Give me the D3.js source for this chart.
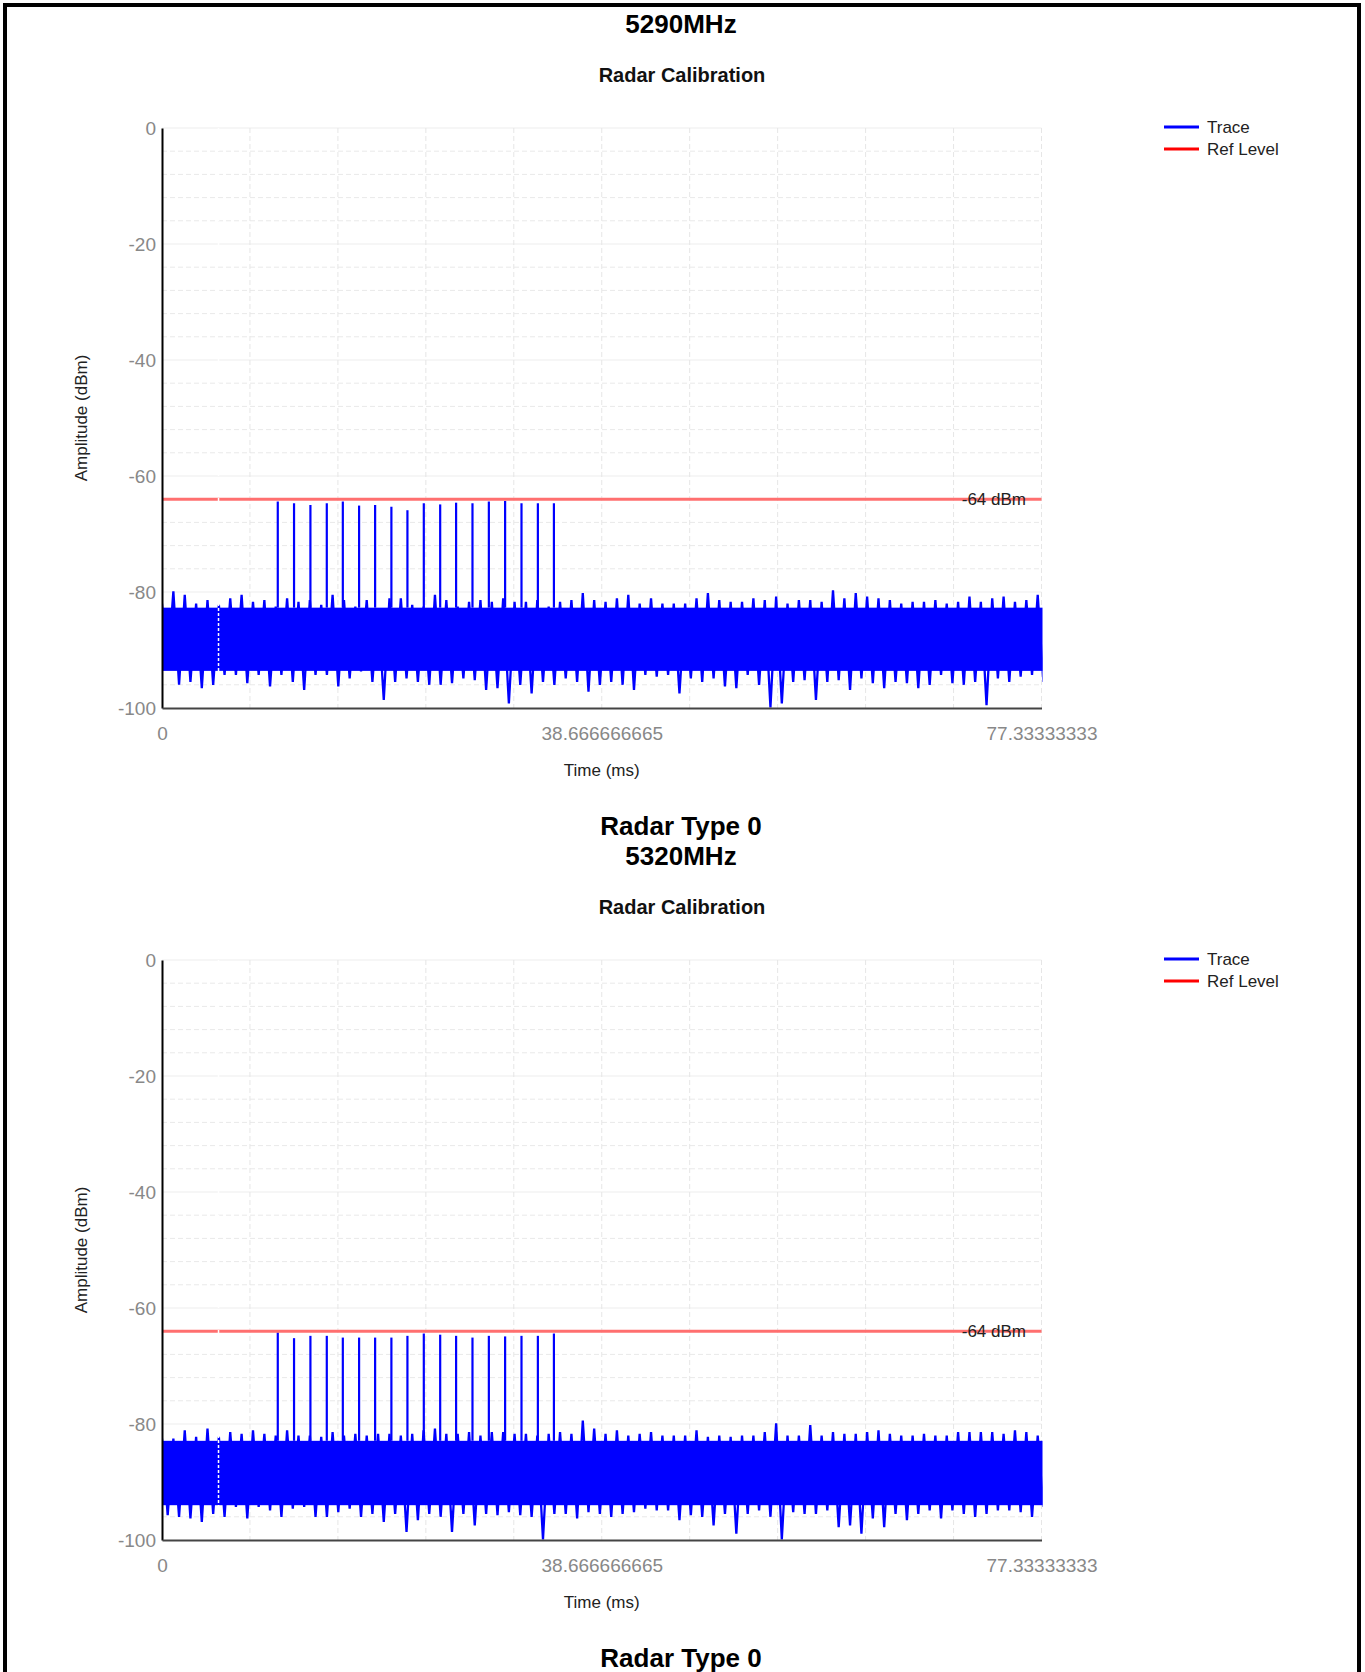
<!DOCTYPE html>
<html>
<head>
<meta charset="utf-8">
<script src="https://cdn.jsdelivr.net/npm/d3@7.9.0/dist/d3.min.js"></script>
<style>
body { margin: 0; background: #fff; }
svg { display: block; font-family: "Liberation Sans", Arial, sans-serif; }
</style>
</head>
<body>
<svg id="chart" width="1365" height="1672"></svg>
<script>
// values
const timeTicks = [0, 38.666666665, 77.33333333];
const timeTickLabels = ['0', '38.666666665', '77.33333333'];
const ampTicks = [0, -20, -40, -60, -80, -100];
const refLevel = -64;
const markerTime = 4.97;

const pulseTimes = [10.18, 11.61, 13.05, 14.49, 15.90, 17.33, 18.74, 20.17, 21.58,
    23.02, 24.46, 25.86, 27.30, 28.74, 30.17, 31.61, 33.05, 34.46];
const pulsePeaks5290 = [-64.4, -64.7, -65.0, -64.7, -64.4, -65.1, -65.0, -65.3, -65.9,
    -64.7, -64.9, -64.6, -64.7, -64.4, -64.3, -64.7, -64.7, -64.7];
const pulsePeaks5320 = [-64.2, -65.2, -64.8, -64.8, -65.1, -65.1, -65.1, -65.1, -64.8,
    -64.4, -64.6, -64.8, -65.1, -64.8, -64.9, -64.8, -64.8, -64.4];

// noise floor, one peak and one trough per ms
const noiseTimes = [0, 1, 2, 3, 4, 5, 6, 7, 8, 9, 10, 11, 12, 13, 14, 15, 16, 17, 18, 19,
    20, 21, 22, 23, 24, 25, 26, 27, 28, 29, 30, 31, 32, 33, 34, 35, 36, 37, 38, 39,
    40, 41, 42, 43, 44, 45, 46, 47, 48, 49, 50, 51, 52, 53, 54, 55, 56, 57, 58, 59,
    60, 61, 62, 63, 64, 65, 66, 67, 68, 69, 70, 71, 72, 73, 74, 75, 76, 77];
const noiseHi5290 = [-82.0, -79.9, -80.5, -82.0, -81.4, -82.2, -81.1, -80.5, -81.7, -81.4,
    -82.5, -81.1, -81.7, -81.4, -82.2, -80.5, -81.4, -82.5, -81.4, -82.8,
    -81.1, -81.1, -82.2, -82.5, -80.5, -81.4, -82.5, -81.7, -81.4, -81.7,
    -81.1, -81.7, -81.7, -81.4, -82.5, -81.7, -81.4, -80.2, -81.4, -81.7,
    -81.1, -80.5, -82.0, -81.1, -82.0, -82.0, -82.0, -81.1, -80.2, -81.4,
    -81.7, -81.7, -81.1, -81.4, -80.8, -82.0, -81.4, -81.4, -81.7, -79.7,
    -81.1, -80.2, -80.8, -81.1, -81.4, -82.0, -81.7, -81.7, -81.4, -82.0,
    -81.7, -80.8, -81.7, -81.1, -80.8, -81.7, -81.4, -80.5];
const noiseLo5290 = [-93.2, -96.0, -95.5, -96.6, -96.0, -94.3, -94.3, -95.7, -94.3, -96.3,
    -94.3, -95.5, -96.9, -94.3, -94.3, -96.3, -94.9, -93.7, -95.5, -98.6,
    -95.5, -94.9, -95.5, -96.0, -96.0, -95.7, -94.9, -95.2, -96.9, -96.6,
    -99.2, -96.0, -97.5, -95.5, -96.0, -94.9, -95.5, -97.2, -96.0, -95.5,
    -96.0, -96.9, -94.3, -94.6, -94.3, -97.5, -94.9, -95.5, -94.9, -96.3,
    -96.6, -94.3, -96.0, -99.9, -99.2, -95.5, -95.2, -98.6, -95.5, -95.2,
    -96.9, -94.9, -95.7, -96.6, -95.5, -95.7, -96.6, -96.0, -94.3, -95.7,
    -96.0, -95.5, -99.5, -94.9, -95.5, -94.6, -94.3, -95.5];
const noiseHi5320 = [-82.5, -82.5, -81.1, -82.2, -80.8, -82.2, -81.4, -81.7, -81.1, -81.7,
    -82.0, -81.1, -82.0, -82.0, -82.2, -81.4, -82.0, -81.7, -82.0, -81.7,
    -81.7, -82.0, -81.7, -81.1, -80.8, -81.7, -81.7, -81.4, -82.0, -81.4,
    -81.4, -81.7, -81.7, -82.0, -81.7, -81.4, -81.7, -79.4, -80.8, -81.7,
    -81.1, -82.0, -81.7, -81.4, -82.0, -82.0, -82.0, -81.1, -82.2, -82.0,
    -82.2, -82.0, -82.0, -81.4, -79.9, -82.0, -82.0, -80.2, -82.0, -81.4,
    -81.7, -81.7, -81.4, -81.1, -81.7, -82.0, -82.0, -81.7, -82.0, -82.0,
    -81.4, -81.4, -81.4, -81.4, -81.7, -81.1, -81.4, -82.0];
const noiseLo5320 = [-95.7, -96.0, -96.3, -96.9, -95.5, -96.0, -94.3, -96.3, -94.3, -94.9,
    -96.0, -94.6, -94.3, -96.0, -96.0, -95.2, -94.6, -96.0, -95.5, -96.9,
    -95.5, -98.6, -96.6, -95.5, -96.0, -98.6, -95.5, -97.5, -95.5, -95.7,
    -95.2, -95.7, -96.0, -99.9, -95.5, -95.5, -96.3, -95.2, -95.5, -96.0,
    -95.5, -95.2, -94.6, -94.9, -94.9, -96.6, -95.7, -96.0, -97.5, -95.5,
    -98.9, -95.5, -94.9, -96.0, -99.9, -95.2, -95.5, -95.5, -94.9, -97.8,
    -97.5, -98.9, -96.3, -97.8, -95.5, -96.6, -95.5, -94.9, -96.3, -94.9,
    -95.5, -96.0, -95.5, -94.9, -94.9, -95.2, -96.0, -94.3];
// dense part of the noise band (top, bottom)
const noiseCore5290 = [-82.7, -93.6];
const noiseCore5320 = [-82.9, -94.0];

const svg = d3.select('#chart');
const blockHeight = 832;
const plot = { left: 162, right: 1041.5, top: 128, bottom: 708 };

// page frame
svg.append('rect')
    .attr('x', 5).attr('y', 5)
    .attr('width', 1354).attr('height', 1700)
    .attr('fill', 'none')
    .attr('stroke', '#000')
    .attr('stroke-width', 4);

let x = d3.scaleLinear()
    .domain([0, 77.33333333])
    .range([plot.left, plot.right]);
let y = d3.scaleLinear()
    .domain([-100, 0])
    .range([plot.bottom, plot.top]);

function drawChart(idx, freq, pulsePeaks, noiseHi, noiseLo, noiseCore) {
    let g = svg.append('g').attr('transform', `translate(0,${idx * blockHeight})`);

    if (idx > 0) {
        g.append('text')
            .attr('x', 681).attr('y', 3)
            .attr('text-anchor', 'middle')
            .attr('font-size', 26).attr('font-weight', 'bold')
            .text('Radar Type 0');
    }
    g.append('text')
        .attr('x', 681).attr('y', 33)
        .attr('text-anchor', 'middle')
        .attr('font-size', 26).attr('font-weight', 'bold')
        .text(freq);
    g.append('text')
        .attr('x', 682).attr('y', 82)
        .attr('text-anchor', 'middle')
        .attr('font-size', 20).attr('font-weight', 'bold')
        .attr('fill', '#111')
        .text('Radar Calibration');

    // grid
    let grid = g.append('g');
    for (let v = -96; v < 0; v += 4) {
        grid.append('line')
            .attr('x1', plot.left).attr('x2', plot.right)
            .attr('y1', y(v)).attr('y2', y(v))
            .attr('stroke', v % 20 === 0 ? '#ededed' : '#e9e9e9')
            .attr('stroke-dasharray', v % 20 === 0 ? null : '5,3');
    }
    grid.append('line')
        .attr('x1', plot.left).attr('x2', plot.right)
        .attr('y1', y(0)).attr('y2', y(0))
        .attr('stroke', '#ededed');
    for (let k = 1; k <= 10; k++) {
        let xv = x(77.33333333 * k / 10);
        grid.append('line')
            .attr('x1', xv).attr('x2', xv)
            .attr('y1', plot.top).attr('y2', plot.bottom)
            .attr('stroke', '#e6e6e6')
            .attr('stroke-dasharray', '5,3');
    }

    let clipId = `clip${idx}`;
    g.append('clipPath').attr('id', clipId)
        .append('rect')
        .attr('x', plot.left).attr('y', plot.top)
        .attr('width', plot.right - plot.left + 1)
        .attr('height', plot.bottom - plot.top);
    let area = g.append('g').attr('clip-path', `url(#${clipId})`);

    // solid part of the noise band
    area.append('rect')
        .attr('x', x(0)).attr('width', x(77.33333333) - x(0) + 2)
        .attr('y', y(noiseCore[0]))
        .attr('height', y(noiseCore[1]) - y(noiseCore[0]))
        .attr('fill', '#0000ff');

    let tracePts = [];
    noiseTimes.forEach((t, i) => {
        tracePts.push([t, noiseHi[i]]);
        tracePts.push([t + 0.5, noiseLo[i]]);
    });
    let line = d3.line().x((d) => x(d[0])).y((d) => y(d[1]));
    area.append('path')
        .attr('d', line(tracePts))
        .attr('fill', 'none')
        .attr('stroke', '#0000ff')
        .attr('stroke-width', 2.3);

    // radar pulses
    area.selectAll('line.pulse')
        .data(pulseTimes)
        .join('line')
        .attr('class', 'pulse')
        .attr('x1', (d) => x(d)).attr('x2', (d) => x(d))
        .attr('y1', y(noiseCore[0]))
        .attr('y2', (d, i) => y(pulsePeaks[i]))
        .attr('stroke', '#0000ff')
        .attr('stroke-width', 2.2);

    // ref level
    area.append('line')
        .attr('x1', plot.left).attr('x2', plot.right)
        .attr('y1', y(refLevel)).attr('y2', y(refLevel))
        .attr('stroke', '#ff6f6f')
        .attr('stroke-width', 3);

    area.append('line')
        .attr('x1', x(markerTime)).attr('x2', x(markerTime))
        .attr('y1', plot.top).attr('y2', plot.bottom)
        .attr('stroke', '#fff')
        .attr('stroke-width', 1.5)
        .attr('stroke-dasharray', '3,2');

    g.append('text')
        .attr('x', 1026).attr('y', y(refLevel) + 6)
        .attr('text-anchor', 'end')
        .attr('font-size', 17)
        .attr('fill', '#222')
        .text(`${refLevel} dBm`);

    // axes
    let yAxis = g.append('g')
        .attr('transform', `translate(${plot.left},0)`)
        .call(d3.axisLeft(y).tickValues(ampTicks)
            .tickFormat((d) => `${d}`)
            .tickSize(0).tickSizeOuter(0).tickPadding(6));
    yAxis.select('.domain').attr('stroke', '#000').attr('stroke-width', 2);
    yAxis.selectAll('text')
        .attr('font-size', 19)
        .attr('font-family', '"Liberation Sans", Arial, sans-serif')
        .attr('fill', '#888');

    let xAxis = g.append('g')
        .attr('transform', `translate(0,${plot.bottom})`)
        .call(d3.axisBottom(x).tickValues(timeTicks)
            .tickFormat((d, i) => timeTickLabels[i])
            .tickSize(0).tickSizeOuter(0).tickPadding(19));
    xAxis.select('.domain').attr('stroke', '#444').attr('stroke-width', 2);
    xAxis.selectAll('text')
        .attr('font-size', 19)
        .attr('font-family', '"Liberation Sans", Arial, sans-serif')
        .attr('fill', '#888');

    g.append('text')
        .attr('x', (plot.left + plot.right) / 2).attr('y', 776)
        .attr('text-anchor', 'middle')
        .attr('font-size', 17)
        .attr('fill', '#222')
        .text('Time (ms)');
    g.append('text')
        .attr('transform', `translate(87,${(plot.top + plot.bottom) / 2}) rotate(-90)`)
        .attr('text-anchor', 'middle')
        .attr('font-size', 17)
        .attr('fill', '#222')
        .text('Amplitude (dBm)');

    // legend
    let legend = [['Trace', '#0000ff'], ['Ref Level', '#ff0000']];
    legend.forEach(([label, color], i) => {
        let ly = 127 + i * 22;
        g.append('line')
            .attr('x1', 1164).attr('x2', 1199)
            .attr('y1', ly).attr('y2', ly)
            .attr('stroke', color)
            .attr('stroke-width', 3);
        g.append('text')
            .attr('x', 1207).attr('y', ly + 6)
            .attr('font-size', 17)
            .attr('fill', '#222')
            .text(label);
    });
}

drawChart(0, '5290MHz', pulsePeaks5290, noiseHi5290, noiseLo5290, noiseCore5290);
drawChart(1, '5320MHz', pulsePeaks5320, noiseHi5320, noiseLo5320, noiseCore5320);

// next block's heading peeks in at the bottom
svg.append('text')
    .attr('x', 681).attr('y', 2 * blockHeight + 3)
    .attr('text-anchor', 'middle')
    .attr('font-size', 26).attr('font-weight', 'bold')
    .text('Radar Type 0');
</script>
</body>
</html>
